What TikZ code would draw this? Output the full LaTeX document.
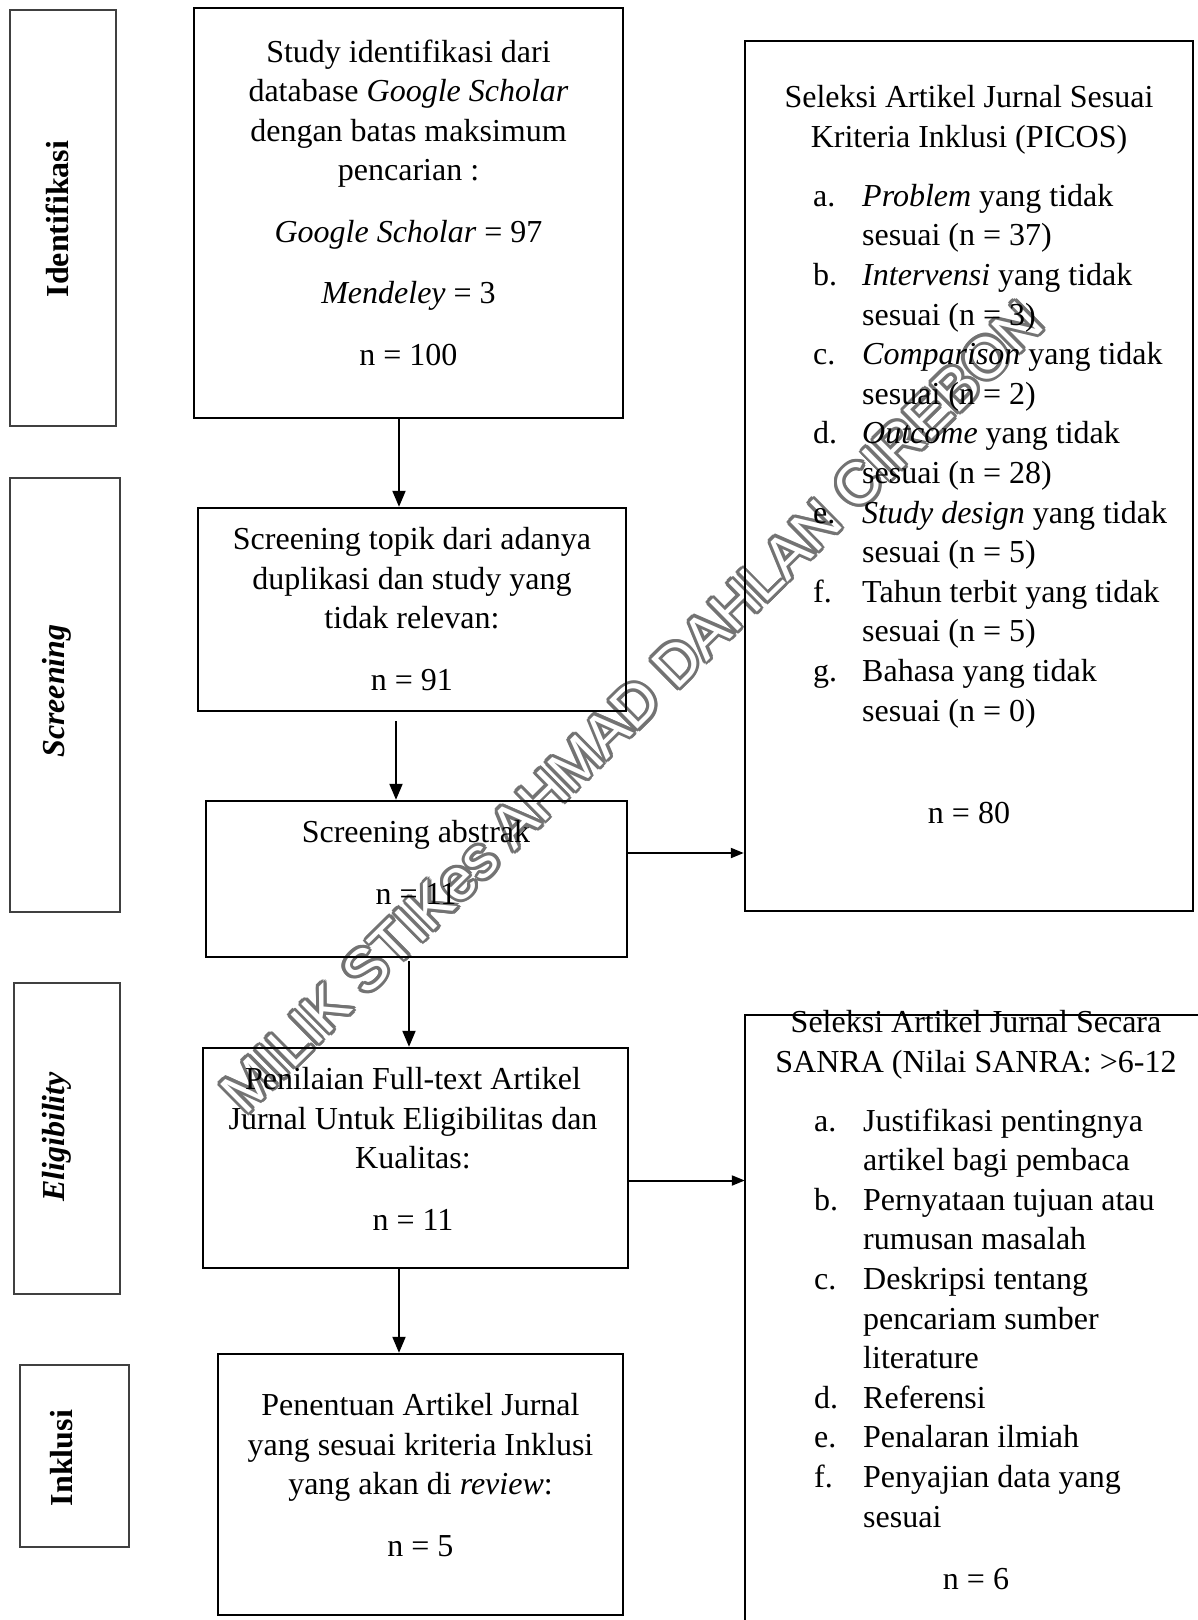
\documentclass[tikz,border=0pt]{standalone}
\usepackage{fontspec}
\setmainfont{Liberation Serif}
\newfontfamily\wmfont{Liberation Sans}
\usetikzlibrary{arrows.meta,calc}
\newcommand\mytxt{\fontsize{32}{39.5}\selectfont}
\newcommand\mylst{\fontsize{32}{39.6}\selectfont}
\newcommand\lbl[1]{\makebox[49pt][l]{#1}}
\begin{document}
\begin{tikzpicture}[x=1pt,y=-1pt,
  mainbox/.style={draw=black, line width=2.4pt, inner sep=0pt},
  sidebox/.style={draw=black!75, line width=1.3pt, inner sep=0pt},
  txt/.style={font=\mytxt, align=center, inner sep=0pt, anchor=base},
  lst/.style={font=\mylst, align=left, inner sep=0pt, anchor=base west},
  sidetxt/.style={font=\mytxt\bfseries, rotate=90, inner sep=0pt},
  arr/.style={line width=2pt, -{Triangle[length=16pt,width=13pt]}},
  harr/.style={line width=2pt, -{Triangle[length=13pt,width=10pt]}},
  wm/.style={font=\wmfont\fontsize{58.5}{58.5}\selectfont, rotate=44.6, inner sep=0pt}]
\useasboundingbox (0,0) rectangle (1198,1620);

% watermark
\coordinate (wmc) at (632,707);
\foreach \a in {0,30,...,330}
  \node[wm, text=black!55] (wm\a) at ($(wmc)+(\a:3.2)$) {MILIK STIKes AHMAD DAHLAN CIREBON};
\node[wm, text=white] (wm) at (wmc) {MILIK STIKes AHMAD DAHLAN CIREBON};

% side labels
\node[sidebox, minimum width=106pt, minimum height=416pt] (L1) at (63,218) {};
\node[sidebox, minimum width=110pt, minimum height=434pt] (L2) at (65,695) {};
\node[sidebox, minimum width=106pt, minimum height=311pt] (L3) at (67,1138.5) {};
\node[sidebox, minimum width=109pt, minimum height=182pt] (L4) at (74.5,1456) {};
\node[sidetxt] (T1) at (57,219) {Identifikasi};
\node[sidetxt] (T2) at (57,691) {\itshape Screening};
\node[sidetxt] (T3) at (57,1137) {\itshape Eligibility};
\node[sidetxt] (T4) at (62,1458) {Inklusi};

% main boxes
\node[mainbox, minimum width=429pt, minimum height=410pt] (b1) at (408.5,213) {};
\node[mainbox, minimum width=428pt, minimum height=203pt] (b2) at (412,609.5) {};
\node[mainbox, minimum width=421pt, minimum height=156pt] (b3) at (416.5,879) {};
\node[mainbox, minimum width=425pt, minimum height=220pt] (b4) at (415.5,1158) {};
\node[mainbox, minimum width=405pt, minimum height=261pt] (b5) at (420.5,1484.5) {};
\node[mainbox, minimum width=448pt, minimum height=870pt] (r1) at (969,476) {};
\node[inner sep=0pt, minimum width=453pt, minimum height=605pt] (r2) at (971.5,1317.5) {};
\draw[line width=2.4pt] (r2.south west) -- (r2.north west) -- (r2.north east);

% texts (anchored on the baseline of the last line)
\node[txt] (t1) at (408.5,365) {Study identifikasi dari\\
database \textit{Google Scholar}\\
dengan batas maksimum\\
pencarian :\\[22pt]
\textit{Google Scholar} = 97\\[22pt]
\textit{Mendeley} = 3\\[22pt]
n = 100};
\node[txt] (t2) at (412,690) {Screening topik dari adanya\\
duplikasi dan study yang\\
tidak relevan:\\[22pt]
n = 91};
\node[txt] (t3) at (416,904) {Screening abstrak\\[22pt] n = 11};
\node[txt] (t4) at (413,1230) {Penilaian Full-text Artikel\\
Jurnal Untuk Eligibilitas dan\\
Kualitas:\\[22pt]
n = 11};
\node[txt] (t5) at (420.5,1556) {Penentuan Artikel Jurnal\\
yang sesuai kriteria Inklusi\\
yang akan di \textit{review}:\\[22pt]
n = 5};

\node[txt] (h1) at (969,147) {Seleksi Artikel Jurnal Sesuai\\ Kriteria Inklusi (PICOS)};
\node[lst] (l1) at (813,721) {\lbl{a.}\textit{Problem} yang tidak\\
\lbl{}sesuai (n = 37)\\
\lbl{b.}\textit{Intervensi} yang tidak\\
\lbl{}sesuai (n = 3)\\
\lbl{c.}\textit{Comparison} yang tidak\\
\lbl{}sesuai (n = 2)\\
\lbl{d.}\textit{Outcome} yang tidak\\
\lbl{}sesuai (n = 28)\\
\lbl{e.}\textit{Study design} yang tidak\\
\lbl{}sesuai (n = 5)\\
\lbl{f.}Tahun terbit yang tidak\\
\lbl{}sesuai (n = 5)\\
\lbl{g.}Bahasa yang tidak\\
\lbl{}sesuai (n = 0)};
\node[txt] (n1) at (969,823) {n = 80};

\node[txt] (h2) at (976,1072) {Seleksi Artikel Jurnal Secara\\ SANRA (Nilai SANRA: >6-12};
\node[lst] (l2) at (814,1527) {\lbl{a.}Justifikasi pentingnya\\
\lbl{}artikel bagi pembaca\\
\lbl{b.}Pernyataan tujuan atau\\
\lbl{}rumusan masalah\\
\lbl{c.}Deskripsi tentang\\
\lbl{}pencariam sumber\\
\lbl{}literature\\
\lbl{d.}Referensi\\
\lbl{e.}Penalaran ilmiah\\
\lbl{f.}Penyajian data yang\\
\lbl{}sesuai};
\node[txt] (n2) at (976,1589) {n = 6};

% arrows
\draw[arr] ([xshift=-9.5pt]b1.south) -- ([xshift=-9.5pt]b1.south |- b2.north);
\draw[arr] ([xshift=-16pt,yshift=-9pt]b2.south) -- ([xshift=-16pt]b2.south |- b3.north);
\draw[arr] ([xshift=-7.5pt,yshift=-3pt]b3.south) -- ([xshift=-7.5pt]b3.south |- b4.north);
\draw[arr] ([xshift=-16.5pt]b4.south) -- ([xshift=-16.5pt]b4.south |- b5.north);
\draw[harr] ([yshift=26pt]b3.east) -- ([yshift=26pt]b3.east -| r1.west);
\draw[harr] ([yshift=-22.5pt]b4.east) -- ([yshift=-22.5pt]b4.east -| r2.west);
\end{tikzpicture}
\end{document}
